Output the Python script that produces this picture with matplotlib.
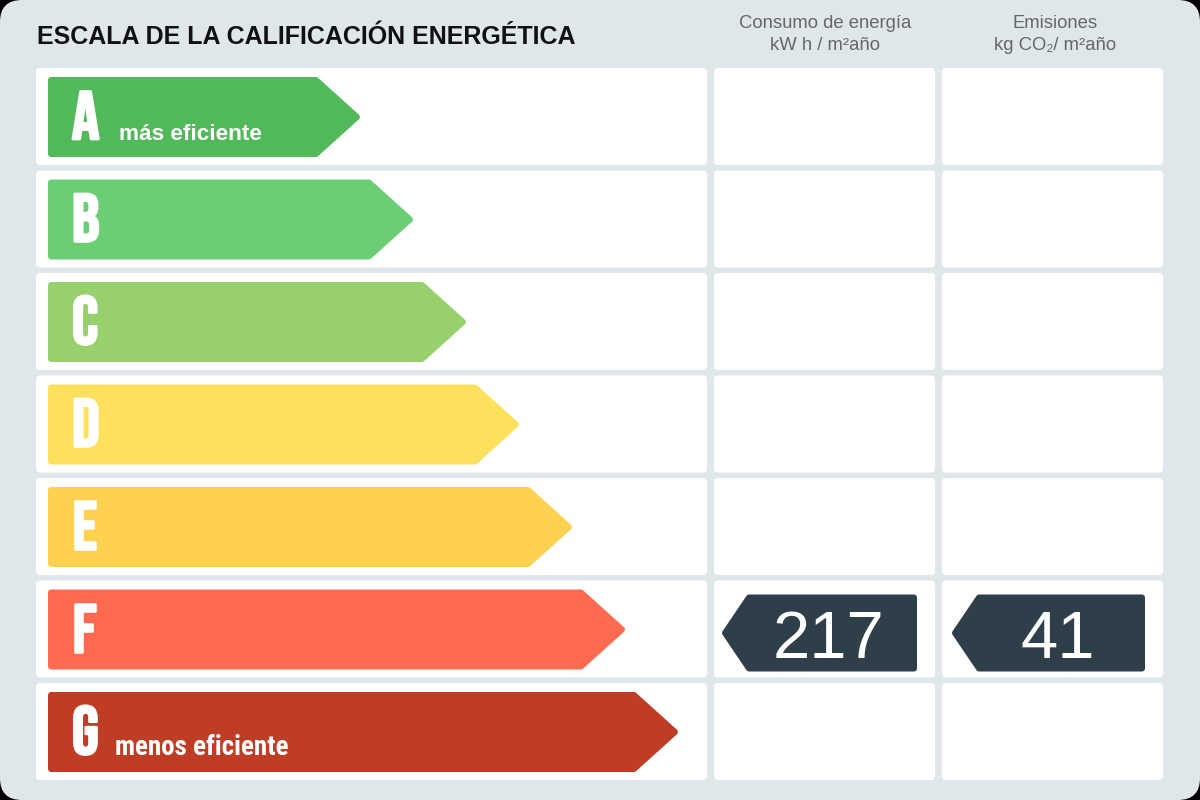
import matplotlib
matplotlib.use("Agg")
import matplotlib.pyplot as plt
from matplotlib.patches import FancyBboxPatch, Polygon
from matplotlib import font_manager as fm
from matplotlib import patheffects as pe

# ---- data ----
grades = ["A", "B", "C", "D", "E", "F", "G"]
grade_colors = ["#52b95b", "#6bce74", "#97d06c", "#fde15c", "#ffd151", "#ff6a50", "#c03d25"]
grade_notes = {"A": "más eficiente", "G": "menos eficiente"}
rating = "F"
consumo_value = 217
emisiones_value = 41
title = "ESCALA DE LA CALIFICACIÓN ENERGÉTICA"
header_consumo = ["Consumo de energía", "kW h / m²año"]
header_emisiones = ["Emisiones", "kg CO₂/ m²año"]

names = {f.name for f in fm.fontManager.ttflist}


def pick(*cands):
    for c in cands:
        if c in names:
            return c
    return "DejaVu Sans"


letter_font = pick("Bebas Neue", "Oswald", "Roboto Condensed", "DejaVu Sans")
cond_font = pick("Roboto Condensed", "Barlow Condensed", "DejaVu Sans")
sans = pick("Liberation Sans", "Arimo", "DejaVu Sans")

W, H = 1200, 800
fig = plt.figure(figsize=(12, 8), dpi=100, facecolor="black")
ax = fig.add_axes([0, 0, 1, 1])
ax.set_xlim(0, W)
ax.set_ylim(H, 0)
ax.axis("off")
ax.set_facecolor("black")

PX = 0.72  # points per pixel

bg = FancyBboxPatch((0, 0), W, H, boxstyle="round,pad=0,rounding_size=22",
                    fc="#e0e7ea", ec="none")
ax.add_patch(bg)

ax.text(37, 44, title, fontsize=25 * PX, fontweight="bold", family=sans,
        color="#111111", va="baseline", ha="left")

for cx, lines in [(825, header_consumo), (1055, header_emisiones)]:
    ax.text(cx, 24, lines[0], fontsize=18.5 * PX, family=[sans, "DejaVu Sans"], color="#666666",
            ha="center", va="center")
    ax.text(cx, 46, lines[1], fontsize=18.5 * PX, family=[sans, "DejaVu Sans"], color="#666666",
            ha="center", va="center")

row_top0 = 68
pitch = 102.5
cell_h = 97
cols = [(36, 707), (714, 935), (942, 1163)]


def rbox(x0, y0, x1, y1, r, color):
    p = FancyBboxPatch((x0 + r, y0 + r), (x1 - x0) - 2 * r, (y1 - y0) - 2 * r,
                       boxstyle=f"round,pad={r}", fc=color, ec="none")
    ax.add_patch(p)


for i, g in enumerate(grades):
    top = row_top0 + i * pitch
    for (x0, x1) in cols:
        rbox(x0, top, x1, top + cell_h, 4, "white")

    # arrow
    ax0 = 48
    tip = 360 + 53 * i
    atop = top + 9
    abot = atop + 80
    amid = (atop + abot) / 2
    half = 44
    s = 3
    poly = Polygon([(ax0 + s, atop + s), (tip - half, atop + s), (tip - s, amid),
                    (tip - half, abot - s), (ax0 + s, abot - s)], closed=True,
                   fc=grade_colors[i], ec=grade_colors[i], lw=2 * s * PX,
                   joinstyle="round")
    ax.add_patch(poly)

    ax.text(72, top + 71, g, fontsize=68 * PX, family=letter_font,
            color="white", ha="left", va="baseline",
            path_effects=[pe.withStroke(linewidth=2.6 * PX, foreground="white")])
    if g in grade_notes:
        if g == "A":
            ax.text(119, top + 72, grade_notes[g], fontsize=22.5 * PX, fontweight="bold",
                    family=sans, color="white", ha="left", va="baseline")
        else:
            ax.text(115, top + 72, grade_notes[g], fontsize=27 * PX, fontweight="bold",
                    family=cond_font, color="white", ha="left", va="baseline")

# badges
ri = grades.index(rating)
top = row_top0 + ri * pitch
btop, bbot = top + 14, top + 91
bmid = (btop + bbot) / 2
for (x0, x1), val in [(cols[1], consumo_value), (cols[2], emisiones_value)]:
    bx0 = x0 + 8 + (2 if x0 > 900 else 0)
    bx1 = x1 - 18
    body = bx0 + 27
    s = 3
    poly = Polygon([(bx0 + s, bmid), (body, btop + s), (bx1 - s, btop + s),
                    (bx1 - s, bbot - s), (body, bbot - s)], closed=True,
                   fc="#2e3f49", ec="#2e3f49", lw=2 * s * PX, joinstyle="round")
    ax.add_patch(poly)
    ax.text((body + bx1) / 2 - 4, top + 78, str(val), fontsize=67 * PX, family=sans,
            color="white", ha="center", va="baseline")

fig.savefig("out.png", dpi=100, facecolor="black")
